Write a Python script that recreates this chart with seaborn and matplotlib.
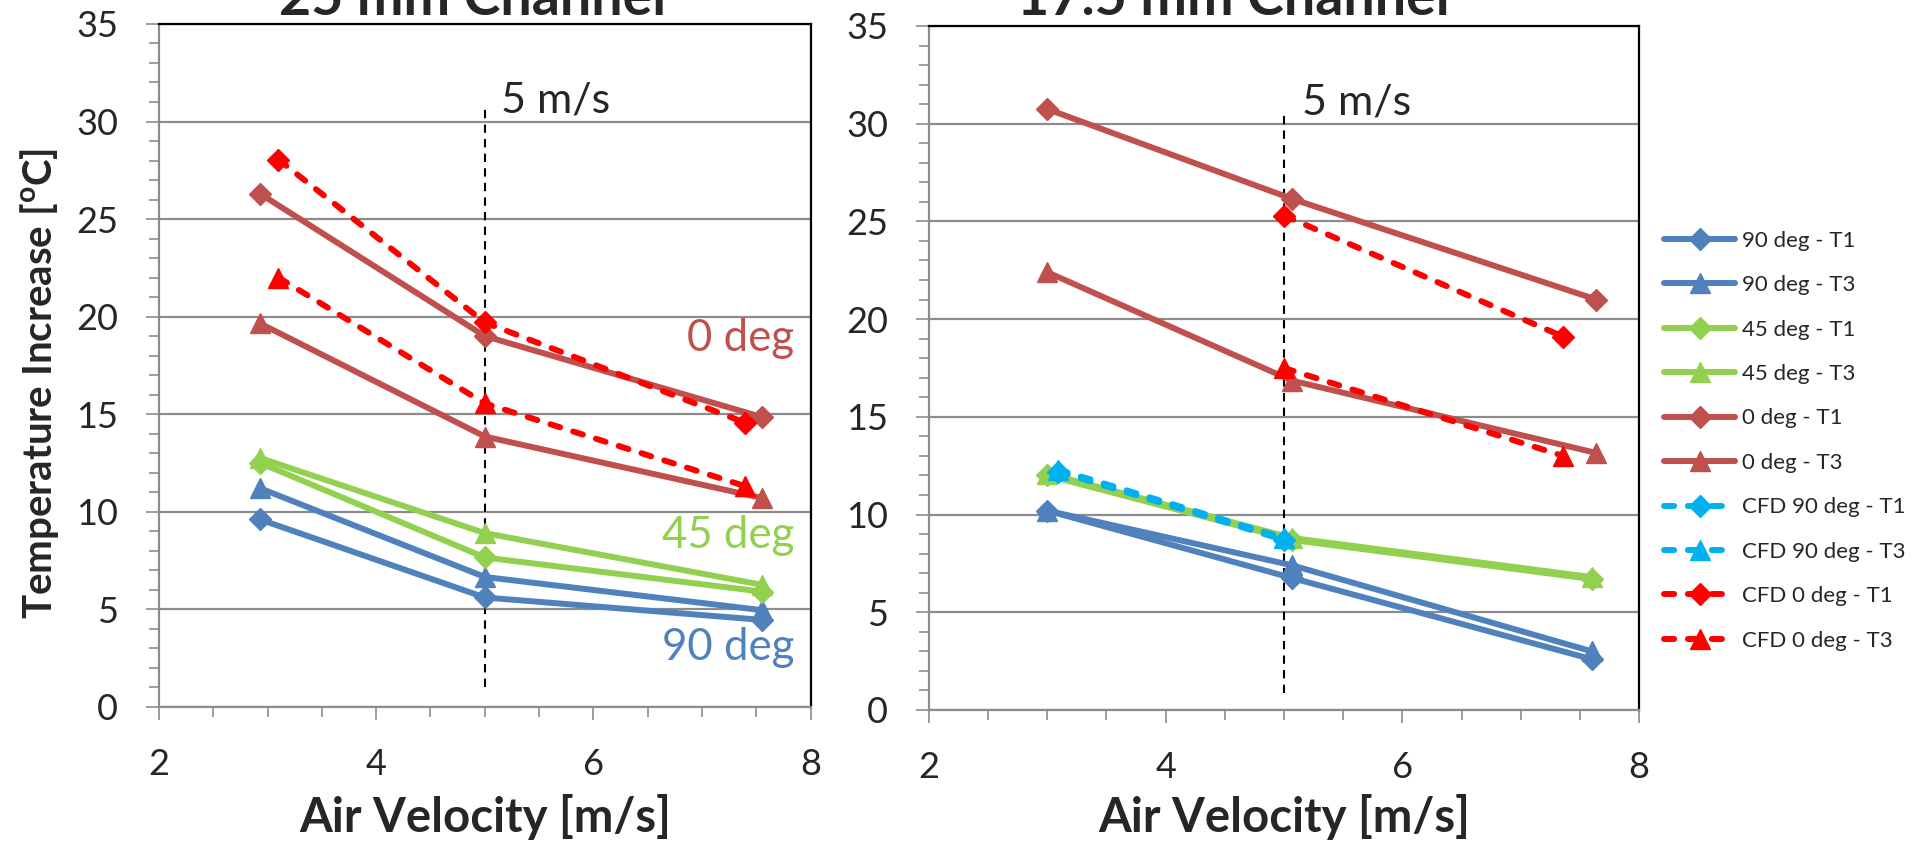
import matplotlib
matplotlib.use('Agg')
import matplotlib.pyplot as plt
from matplotlib.ticker import MultipleLocator
import seaborn as sns

# Air velocity [m/s]
x_25 = [2.93, 5.0, 7.55]
x_25_cfd = [3.1, 5.0, 7.4]
x_17 = [3.0, 5.07, 7.6]
x_17_0deg = [3.0, 5.07, 7.64]
x_17_cfd90 = [3.09, 5.0]
x_17_cfd0 = [5.0, 7.36]

# 25 mm channel - temperature increase [C]
t25_90_t1 = [9.6, 5.6, 4.45]
t25_90_t3 = [11.2, 6.65, 4.95]
t25_45_t1 = [12.5, 7.65, 5.9]
t25_45_t3 = [12.75, 8.9, 6.25]
t25_0_t1 = [26.3, 19.0, 14.85]
t25_0_t3 = [19.65, 13.85, 10.7]
t25_cfd0_t1 = [28.05, 19.7, 14.55]
t25_cfd0_t3 = [22.0, 15.55, 11.3]

# 17.5 mm channel - temperature increase [C]
t17_90_t1 = [10.2, 6.75, 2.6]
t17_90_t3 = [10.2, 7.4, 3.0]
t17_45_t1 = [12.0, 8.7, 6.7]
t17_45_t3 = [12.1, 8.8, 6.8]
t17_0_t1 = [30.75, 26.15, 21.0]
t17_0_t3 = [22.4, 16.85, 13.15]
t17_cfd90_t1 = [12.2, 8.7]
t17_cfd90_t3 = [12.3, 8.8]
t17_cfd0_t1 = [25.3, 19.1]
t17_cfd0_t3 = [17.5, 13.0]

# reference line at 5 m/s (y extent of the dashed line)
ref_v = 5
ref_span_25 = (1.0, 30.8)
ref_span_17 = (0.85, 30.6)

BLUE = '#4F81BD'
GREEN = '#92D050'
DRED = '#C0504D'
CYAN = '#00B0F0'
RED = '#FF0000'
GRID = '#8c8c8c'

styles = {
    '90 deg - T1': (BLUE, 'D', False),
    '90 deg - T3': (BLUE, '^', False),
    '45 deg - T1': (GREEN, 'D', False),
    '45 deg - T3': (GREEN, '^', False),
    '0 deg - T1': (DRED, 'D', False),
    '0 deg - T3': (DRED, '^', False),
    'CFD 90 deg - T1': (CYAN, 'D', True),
    'CFD 90 deg - T3': (CYAN, '^', True),
    'CFD 0 deg - T1': (RED, 'D', True),
    'CFD 0 deg - T3': (RED, '^', True),
}

sns.set_style('white')
plt.rcParams['font.family'] = ['Lato', 'DejaVu Sans']
plt.rcParams['mathtext.fontset'] = 'custom'
plt.rcParams['mathtext.rm'] = 'Lato'
plt.rcParams['mathtext.bf'] = 'Lato:bold'

fig = plt.figure(figsize=(19.15, 8.41), dpi=100)
ax1 = fig.add_axes([0.0830, 0.1597, 0.3403, 0.8118])
ax2 = fig.add_axes([0.4851, 0.1558, 0.3708, 0.8133])


def draw(ax, x, y, label):
    color, marker, dashed = styles[label]
    ms = 11 if marker == 'D' else 15
    ls = (0, (1.7, 2.3)) if dashed else '-'
    sns.lineplot(x=x, y=y, ax=ax, color=color, marker=marker, markersize=ms,
                 markeredgecolor=color, markeredgewidth=1, linewidth=4.3,
                 linestyle=ls, dash_capstyle='round', solid_capstyle='round',
                 solid_joinstyle='round', label=label, legend=False)
    return ax.lines[-1]


draw(ax1, x_25, t25_90_t1, '90 deg - T1')
draw(ax1, x_25, t25_90_t3, '90 deg - T3')
draw(ax1, x_25, t25_45_t1, '45 deg - T1')
draw(ax1, x_25, t25_45_t3, '45 deg - T3')
draw(ax1, x_25, t25_0_t1, '0 deg - T1')
draw(ax1, x_25, t25_0_t3, '0 deg - T3')
draw(ax1, x_25_cfd, t25_cfd0_t1, 'CFD 0 deg - T1')
draw(ax1, x_25_cfd, t25_cfd0_t3, 'CFD 0 deg - T3')

handles = []
handles.append(draw(ax2, x_17, t17_90_t1, '90 deg - T1'))
handles.append(draw(ax2, x_17, t17_90_t3, '90 deg - T3'))
handles.append(draw(ax2, x_17, t17_45_t1, '45 deg - T1'))
handles.append(draw(ax2, x_17, t17_45_t3, '45 deg - T3'))
handles.append(draw(ax2, x_17_0deg, t17_0_t1, '0 deg - T1'))
handles.append(draw(ax2, x_17_0deg, t17_0_t3, '0 deg - T3'))
handles.append(draw(ax2, x_17_cfd90, t17_cfd90_t1, 'CFD 90 deg - T1'))
handles.append(draw(ax2, x_17_cfd90, t17_cfd90_t3, 'CFD 90 deg - T3'))
handles.append(draw(ax2, x_17_cfd0, t17_cfd0_t1, 'CFD 0 deg - T1'))
handles.append(draw(ax2, x_17_cfd0, t17_cfd0_t3, 'CFD 0 deg - T3'))

ax1.vlines(ref_v, *ref_span_25, color='black', lw=1.5, linestyle=(0, (4, 3)), zorder=1)
ax2.vlines(ref_v, *ref_span_17, color='black', lw=1.5, linestyle=(0, (4, 3)), zorder=1)

for ax in (ax1, ax2):
    ax.set_xlim(2, 8)
    ax.set_ylim(0, 35)
    ax.set_xticks([2, 4, 6, 8])
    ax.set_yticks(range(0, 36, 5))
    ax.xaxis.set_minor_locator(MultipleLocator(0.5))
    ax.yaxis.set_minor_locator(MultipleLocator(1))
    ax.yaxis.grid(True, color=GRID, lw=1.6, zorder=0)
    ax.set_axisbelow(True)
    ax.tick_params(which='major', direction='out', length=9.5, width=1.2,
                   color=GRID, labelsize=26, pad=20, left=True, bottom=True)
    ax.tick_params(which='minor', direction='out', length=7, width=1.2,
                   color=GRID, left=True, bottom=True)
    for s in ('left', 'bottom'):
        ax.spines[s].set_color(GRID)
        ax.spines[s].set_linewidth(1.6)
    for s in ('top', 'right'):
        ax.spines[s].set_color('black')
        ax.spines[s].set_linewidth(1.6)
    ax.set_xlabel('Air Velocity [m/s]', fontsize=34, fontweight='bold')
    ax.text(5.15, 31.1, '5 m/s', fontsize=31, va='center', ha='left')

ax1.xaxis.set_label_coords(0.5, -0.1616)
ax2.xaxis.set_label_coords(0.5, -0.1564)
ax1.xaxis.label.set_va('center')
ax2.xaxis.label.set_va('center')

ax1.set_ylabel(r'Temperature Increase [$^{\mathbf{o}}$C]', fontsize=29, fontweight='bold')
ax1.yaxis.set_label_coords(-0.1826, 0.474)
ax1.yaxis.label.set_va('center')

ax1.text(7.85, 18.85, '0 deg', color=DRED, fontsize=31.5, ha='right', va='center')
ax1.text(7.85, 8.8, '45 deg', color=GREEN, fontsize=31.5, ha='right', va='center')
ax1.text(7.85, 3.05, '90 deg', color=BLUE, fontsize=31.5, ha='right', va='center')

fig.text(473 / 1915, 1 - 15 / 841, '25 mm Channel', fontsize=40, fontweight='bold',
         ha='center', va='baseline')
fig.text(1233 / 1915, 1 - 15 / 841, '17.5 mm Channel', fontsize=40, fontweight='bold',
         ha='center', va='baseline')

fig.legend(handles, list(styles.keys()), loc='center left',
           bbox_to_anchor=(0.8632, 0.476), frameon=False, fontsize=16,
           handlelength=3.2, handletextpad=0.3, labelspacing=1.1, borderpad=0)

fig.savefig('out.png', dpi=100)
